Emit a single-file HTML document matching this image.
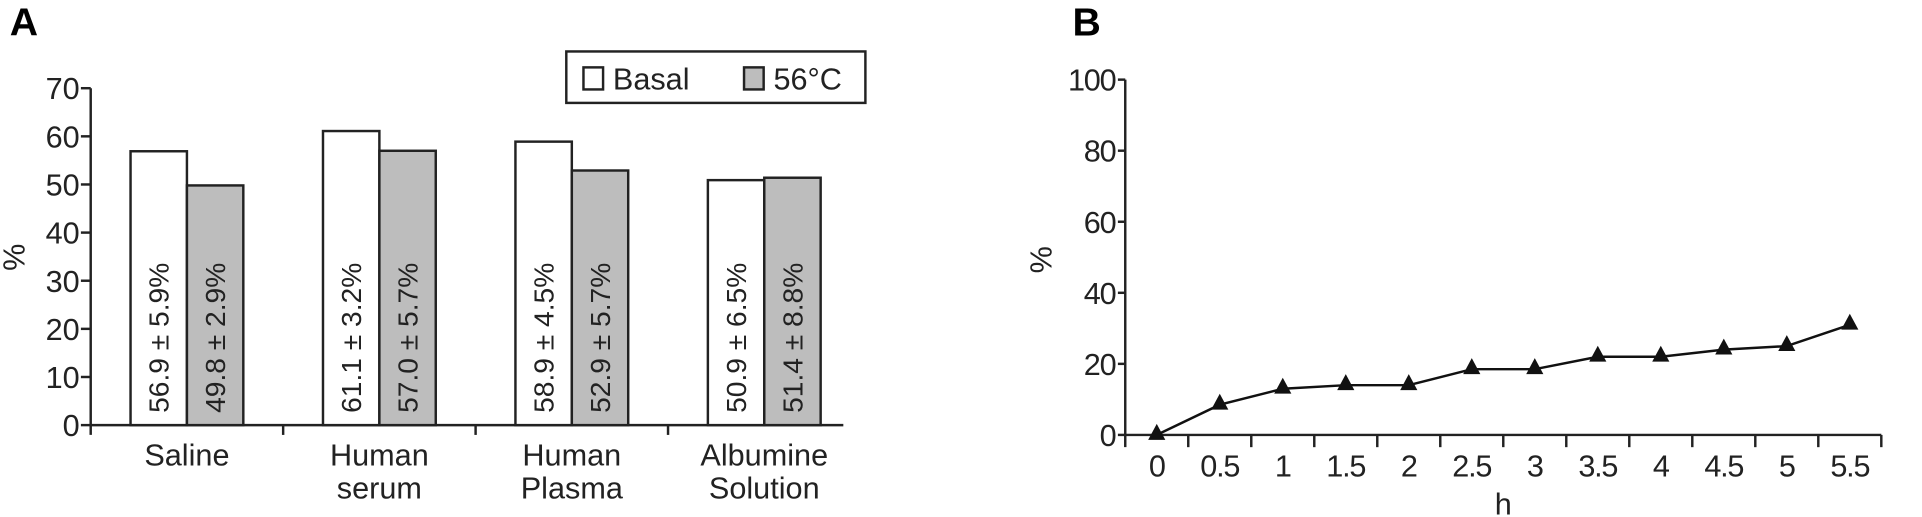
<!DOCTYPE html>
<html><head><meta charset="utf-8"><style>
html,body{margin:0;padding:0;background:#fff;}
svg{display:block;font-family:"Liberation Sans",Arial,sans-serif;}
</style></head><body>
<svg id="s" width="1922" height="517" viewBox="0 0 1568 422" preserveAspectRatio="none">
<text x="8" y="29" font-size="32" font-weight="bold">A</text>
<text x="875" y="29" font-size="32" font-weight="bold">B</text>
<g id="ga"></g>
<g id="gb"></g>
</svg>
<script>
const categories = [["Saline"],["Human","serum"],["Human","Plasma"],["Albumine","Solution"]];
const basalValues = [56.9, 61.1, 58.9, 50.9];
const heatValues = [49.8, 57.0, 52.9, 51.4];
const basalLabels = ["56.9 ± 5.9%","61.1 ± 3.2%","58.9 ± 4.5%","50.9 ± 6.5%"];
const heatLabels = ["49.8 ± 2.9%","57.0 ± 5.7%","52.9 ± 5.7%","51.4 ± 8.8%"];
const yTicksA = [0,10,20,30,40,50,60,70];
const hours = ["0","0.5","1","1.5","2","2.5","3","3.5","4","4.5","5","5.5"];
const lineValues = [0, 8.5, 13, 14, 14, 18.5, 18.5, 22, 22, 24, 25, 31];
const yTicksB = [0,20,40,60,80,100];

const NS="http://www.w3.org/2000/svg";
function mk(p,tag,at,txt){const e=document.createElementNS(NS,tag);for(const k in at)e.setAttribute(k,at[k]);if(txt!==undefined)e.textContent=txt;p.appendChild(e);return e;}

// Panel A
const ga=document.getElementById('ga');
const ax0=74, ay0=347, ay1=72, catW=157;
const yA=v=>ay0-(v/70)*(ay0-ay1);
const xA=i=>ax0+catW*i+catW/2;
const bw=46;
let e;
e=mk(ga,'line',{x1:ax0,y1:ay1,x2:ax0,y2:ay0+8,stroke:'#222','stroke-width':2});

e=mk(ga,'line',{x1:ax0,y1:ay0,x2:ax0+catW*4-14,y2:ay0,stroke:'#222','stroke-width':2});

yTicksA.forEach(v=>{
  mk(ga,'line',{x1:ax0-8,y1:yA(v),x2:ax0,y2:yA(v),stroke:'#222','stroke-width':2});
  e=mk(ga,'text',{x:ax0-9,y:yA(v)+9,'font-size':25,'text-anchor':'end',fill:'#222'},String(v));
  
});
for(let i=1;i<4;i++) mk(ga,'line',{x1:ax0+catW*i,y1:ay0,x2:ax0+catW*i,y2:ay0+8,stroke:'#222','stroke-width':2});
e=mk(ga,'text',{x:0,y:0,'font-size':25,'text-anchor':'middle',fill:'#222',transform:'translate(20,210) rotate(-90)'},'%');

categories.forEach((c,i)=>{
  const cx=xA(i);
  [[basalValues,basalLabels,'#fff',cx-bw],[heatValues,heatLabels,'#bdbdbd',cx]].forEach(([vals,labs,fill,x],j)=>{
    e=mk(ga,'rect',{x:x,y:yA(vals[i]),width:bw,height:ay0-yA(vals[i]),fill:fill,stroke:'#222','stroke-width':2});
    
    e=mk(ga,'text',{x:0,y:0,'font-size':23,fill:'#222',transform:`translate(${x+bw/2+8},${ay0-10}) rotate(-90)`},labs[i]);
    
  });
  c.forEach((ln,k)=>{
    e=mk(ga,'text',{x:cx,y:380+k*27,'font-size':25,'text-anchor':'middle',fill:'#222'},ln);
    
  });
});
// legend
e=mk(ga,'rect',{x:462,y:42,width:244,height:42,fill:'#fff',stroke:'#222','stroke-width':2});

mk(ga,'rect',{x:476,y:55,width:16,height:18,fill:'#fff',stroke:'#222','stroke-width':2});
e=mk(ga,'text',{x:500,y:73,'font-size':25,fill:'#222'},'Basal');

mk(ga,'rect',{x:607,y:55,width:16,height:18,fill:'#bdbdbd',stroke:'#222','stroke-width':2});
e=mk(ga,'text',{x:631,y:73,'font-size':25,fill:'#222'},'56°C');


// Panel B
const gb=document.getElementById('gb');
const bx0=918, by0=355, by1=65, step=51.4;
const yB=v=>by0-(v/100)*(by0-by1);
const xB=i=>bx0+step*i+step/2;
e=mk(gb,'line',{x1:bx0,y1:by1,x2:bx0,y2:by0+10,stroke:'#222','stroke-width':2});

e=mk(gb,'line',{x1:bx0,y1:by0,x2:bx0+step*12,y2:by0,stroke:'#222','stroke-width':2});

yTicksB.forEach(v=>{
  mk(gb,'line',{x1:bx0-6,y1:yB(v),x2:bx0,y2:yB(v),stroke:'#222','stroke-width':2});
  e=mk(gb,'text',{x:bx0-8,y:yB(v)+9,'font-size':25,'text-anchor':'end',fill:'#222','letter-spacing':-1},String(v));
  
});
hours.forEach((h,i)=>{
  mk(gb,'line',{x1:bx0+step*(i+1),y1:by0,x2:bx0+step*(i+1),y2:by0+10,stroke:'#222','stroke-width':2});
  e=mk(gb,'text',{x:xB(i),y:389,'font-size':25,'text-anchor':'middle',fill:'#222','letter-spacing':-1},h);
  
});
e=mk(gb,'text',{x:bx0+step*6,y:420,'font-size':25,'text-anchor':'middle',fill:'#222'},'h');

e=mk(gb,'text',{x:0,y:0,'font-size':25,'text-anchor':'middle',fill:'#222',transform:'translate(858,212) rotate(-90)'},'%');

e=mk(gb,'polyline',{points:lineValues.map((v,i)=>xB(i)+','+yB(v)).join(' '),fill:'none',stroke:'#111','stroke-width':2});

lineValues.forEach((v,i)=>{
  const x=xB(i),y=yB(v);
  e=mk(gb,'polygon',{points:`${x},${y-9} ${x-7},${y+4} ${x+7},${y+4}`,fill:'#111'});
  
});
</script>
</body></html>
